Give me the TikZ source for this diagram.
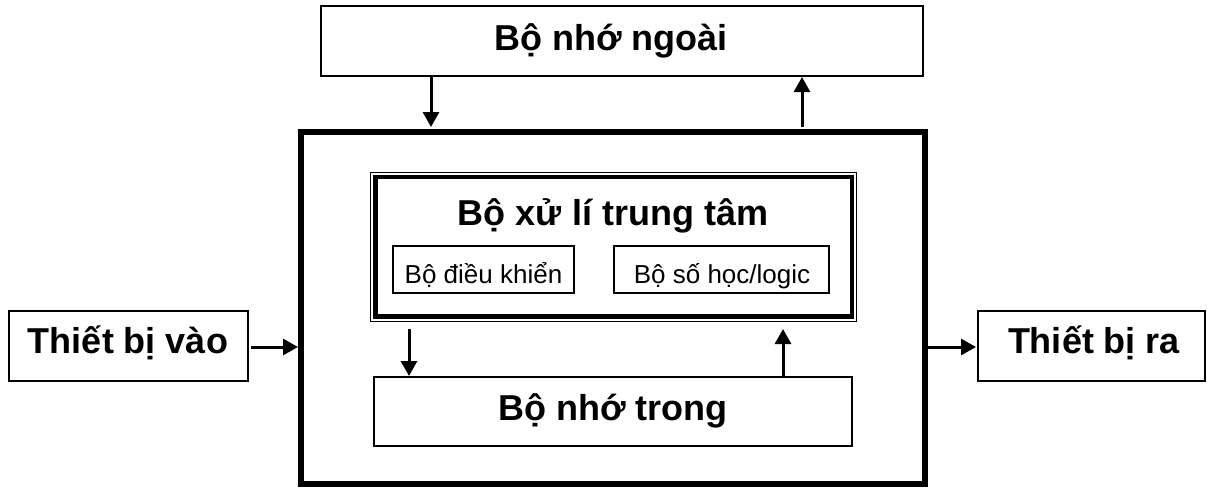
\documentclass[tikz,border=0pt]{standalone}
\usepackage{fontspec}
\setmainfont{Liberation Sans}
\usetikzlibrary{arrows.meta}
\begin{document}
\begin{tikzpicture}[x=1pt,y=1pt,
  box/.style={draw, line width=2pt, inner sep=0pt},
  bigtxt/.style={font=\fontsize{36}{40}\selectfont\bfseries, anchor=base, inner sep=0pt},
  smalltxt/.style={font=\fontsize{26}{30}\selectfont, anchor=base, inner sep=0pt},
  arr/.style={line width=3pt, -{Triangle[length=15pt,width=16pt]}}]
\useasboundingbox (0,0) rectangle (1208,-488);
% boxes
\node[box, minimum width=602, minimum height=70] (ext) at (622,-41) {};
\node[draw, line width=6pt, inner sep=0pt, minimum width=624, minimum height=352] (main) at (613,-308) {};
\node[draw, line width=1.5pt, inner sep=0pt, minimum width=486, minimum height=149] (cpu) at (613.5,-246.75) {};
\draw[line width=4.5pt] ([shift={(5.5,-5.5)}]cpu.north west) rectangle ([shift={(-5.5,5.5)}]cpu.south east);
\node[box, minimum width=181, minimum height=47] (ctrl) at (483.5,-269.5) {};
\node[box, minimum width=215, minimum height=47] (alu) at (721.5,-269.5) {};
\node[box, minimum width=478, minimum height=69] (mem) at (613,-411.5) {};
\node[box, minimum width=239, minimum height=70] (inp) at (128.5,-346) {};
\node[box, minimum width=227, minimum height=70] (outp) at (1091.5,-346) {};
% labels
\node[bigtxt] (extl) at (611,-50) {Bộ nhớ ngoài};
\node[bigtxt] (cpul) at (613,-225) {Bộ xử lí trung tâm};
\node[smalltxt] (ctrll) at (483.5,-283) {Bộ điều khiển};
\node[smalltxt] (alul) at (722,-283) {Bộ số học/logic};
\node[bigtxt] (meml) at (613,-420) {Bộ nhớ trong};
\node[bigtxt] (inpl) at (128,-353) {Thiết bị vào};
\node[bigtxt] (outpl) at (1094,-353) {Thiết bị ra};
% connector x positions
\coordinate (c1) at (431,-100);
\coordinate (c2) at (802,-100);
\coordinate (c3) at (409,-350);
\coordinate (c4) at (783,-350);
\coordinate (c5) at (200,-347);
% arrows
\draw[arr, shorten >=2pt] (ext.south -| c1) -- (main.north -| c1);
\draw[arr, shorten <=2pt] (main.north -| c2) -- (ext.south -| c2);
\draw[arr, shorten <=7pt] (cpu.south -| c3) -- (mem.north -| c3);
\draw[arr, shorten >=7pt] (mem.north -| c4) -- (cpu.south -| c4);
\draw[arr, shorten <=2pt] (inp.east |- c5) -- (main.west |- c5);
\draw[arr, shorten >=1pt] (main.east |- c5) -- (outp.west |- c5);
\end{tikzpicture}
\end{document}
